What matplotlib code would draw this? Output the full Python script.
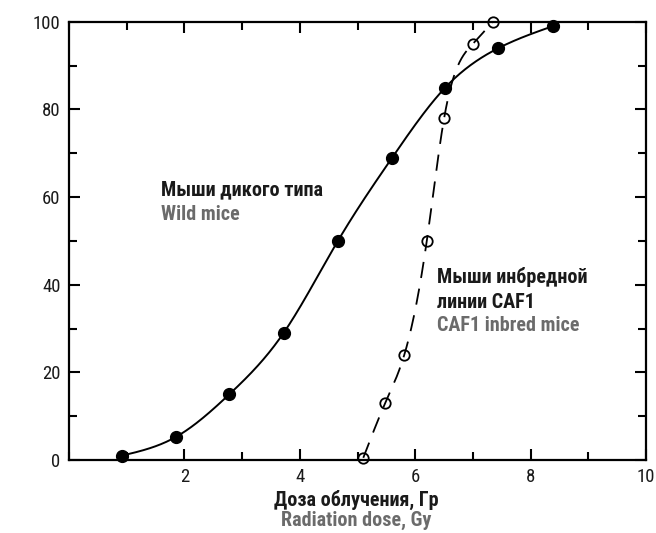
import numpy as np
import matplotlib
matplotlib.use("Agg")
import matplotlib.pyplot as plt
from matplotlib.ticker import MultipleLocator

plt.rcParams['font.family'] = ['Roboto Condensed', 'DejaVu Sans']

# Data
wild_dose = [0.92, 1.86, 2.78, 3.72, 4.66, 5.60, 6.52, 7.44, 8.38]
wild_pct = [1.0, 5.3, 15.0, 29.0, 50.0, 69.0, 85.0, 94.0, 99.0]
caf_dose = [5.10, 5.48, 5.81, 6.20, 6.50, 7.00, 7.34]
caf_pct = [0.5, 13.0, 24.0, 50.0, 78.0, 95.0, 100.0]

x_ticks = [2, 4, 6, 8, 10]
y_ticks = [0, 20, 40, 60, 80, 100]

label_wild_ru = "Мыши дикого типа"
label_wild_en = "Wild mice"
label_caf_ru1 = "Мыши инбредной"
label_caf_ru2 = "линии CAF1"
label_caf_en = "CAF1 inbred mice"
xlabel_ru = "Доза облучения, Гр"
xlabel_en = "Radiation dose, Gy"


def smooth_curve(x, y, n=400):
    """Natural cubic spline drawn through the plotted points (line only)."""
    x = np.asarray(x, float); y = np.asarray(y, float)
    k = len(x); h = np.diff(x)
    A = np.zeros((k, k)); b = np.zeros(k)
    A[0, 0] = A[-1, -1] = 1
    for i in range(1, k - 1):
        A[i, i - 1] = h[i - 1]; A[i, i] = 2 * (h[i - 1] + h[i]); A[i, i + 1] = h[i]
        b[i] = 6 * ((y[i + 1] - y[i]) / h[i] - (y[i] - y[i - 1]) / h[i - 1])
    M = np.linalg.solve(A, b)
    xs = np.linspace(x[0], x[-1], n)
    idx = np.clip(np.searchsorted(x, xs) - 1, 0, k - 2)
    x0, x1 = x[idx], x[idx + 1]; hh = h[idx]
    ys = (M[idx] * (x1 - xs) ** 3 / (6 * hh) + M[idx + 1] * (xs - x0) ** 3 / (6 * hh)
          + (y[idx] / hh - M[idx] * hh / 6) * (x1 - xs)
          + (y[idx + 1] / hh - M[idx + 1] * hh / 6) * (xs - x0))
    return xs, ys


fig = plt.figure(figsize=(6.56, 5.33), dpi=100)
ax = fig.add_axes([0.105, 0.137, 0.880, 0.822])

wx, wy = smooth_curve(wild_dose, wild_pct)
ax.plot(wx, wy, color='black', lw=1.4, zorder=2)
cx, cy = smooth_curve(caf_dose, caf_pct)
ax.plot(cx, cy, color='black', lw=1.3, dashes=(9, 6), zorder=2)

ax.plot(wild_dose, wild_pct, 'o', color='black', ms=8.5, zorder=3, clip_on=False)
ax.plot(caf_dose, caf_pct, 'o', mfc='none', mec='black', mew=1.3, ms=7.5,
        zorder=3, clip_on=False)

ax.set_xlim(0, 10)
ax.set_ylim(0, 100)
ax.set_xticks(x_ticks)
ax.set_yticks(y_ticks)
ax.xaxis.set_minor_locator(MultipleLocator(1))
ax.yaxis.set_minor_locator(MultipleLocator(10))
ax.tick_params(which='both', direction='in', top=True, right=True,
               width=1.5, labelsize=13.5, pad=6, labelcolor='#1a1a1a')
ax.tick_params(which='major', length=8)
ax.tick_params(which='minor', length=6)
for s in ax.spines.values():
    s.set_linewidth(1.6)

fs = 14.5
ax.text(1.60, 61.6, label_wild_ru, fontsize=fs, fontweight='bold', color='#1a1a1a',
        ha='left', va='center')
ax.text(1.60, 56.0, label_wild_en, fontsize=fs, fontweight='bold', color='#6b6b6b',
        ha='left', va='center')
ax.text(6.38, 41.8, label_caf_ru1, fontsize=fs, fontweight='bold', color='#1a1a1a',
        ha='left', va='center')
ax.text(6.38, 35.9, label_caf_ru2, fontsize=fs, fontweight='bold', color='#1a1a1a',
        ha='left', va='center')
ax.text(6.38, 30.8, label_caf_en, fontsize=fs, fontweight='bold', color='#6b6b6b',
        ha='left', va='center')

fig.text(0.543, 1 - 500 / 533, xlabel_ru, fontsize=fs, fontweight='bold',
         color='#1a1a1a', ha='center', va='center')
fig.text(0.543, 1 - 520 / 533, xlabel_en, fontsize=fs, fontweight='bold',
         color='#6b6b6b', ha='center', va='center')

fig.savefig('out.png', dpi=100)
